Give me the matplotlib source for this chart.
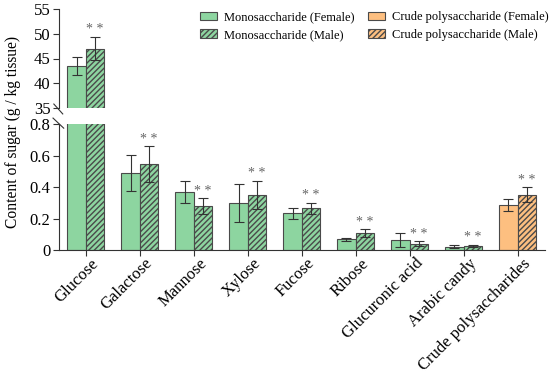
import matplotlib
matplotlib.use("Agg")
import matplotlib.pyplot as plt
import matplotlib.transforms as mtransforms
import numpy as np
from matplotlib.patches import Patch

plt.rcParams['font.family'] = ['Liberation Serif', 'DejaVu Serif']
plt.rcParams['hatch.linewidth'] = 1.0

categories = ["Glucose", "Galactose", "Mannose", "Xylose", "Fucose", "Ribose",
              "Glucuronic acid", "Arabic candy", "Crude polysaccharides"]
female = [43.5, 0.49, 0.368, 0.297, 0.233, 0.068, 0.062, 0.023, 0.288]
female_err = [1.9, 0.115, 0.07, 0.12, 0.035, 0.01, 0.045, 0.012, 0.038]
male = [47.0, 0.545, 0.28, 0.351, 0.265, 0.106, 0.042, 0.025, 0.351]
male_err = [2.4, 0.115, 0.05, 0.09, 0.035, 0.025, 0.015, 0.008, 0.047]
upper_ticks = [35, 40, 45, 50, 55]
lower_ticks = [0, 0.2, 0.4, 0.6, 0.8]
lower_ticklabels = ["0", "0.2", "0.4", "0.6", "0.8"]

green = "#8dd5a0"
orange = "#fdbf80"
edge = "#4a4a4a"
star_color = "#666666"

fig = plt.figure(figsize=(5.5, 3.75), dpi=100)
ax_top = fig.add_axes([0.107, 0.712, 0.883, 0.264])
ax_bot = fig.add_axes([0.107, 0.333, 0.883, 0.336])

x = np.arange(len(categories))
w = 0.34
colors = [green] * (len(categories) - 1) + [orange]

for ax in (ax_top, ax_bot):
    ax.bar(x - w / 2, female, w, color=colors, edgecolor=edge, linewidth=0.8)
    ax.bar(x + w / 2, male, w, color=colors, edgecolor=edge, linewidth=0.8, hatch="//////")
    ax.errorbar(x - w / 2, female, yerr=female_err, fmt="none", ecolor="#333333",
                elinewidth=0.8, capsize=3.3, capthick=0.8)
    ax.errorbar(x + w / 2, male, yerr=male_err, fmt="none", ecolor="#333333",
                elinewidth=0.8, capsize=3.3, capthick=0.8)
    ax.set_xlim(-0.5, len(categories) - 0.5)
    ax.spines['top'].set_visible(False)
    ax.spines['right'].set_visible(False)
    ax.spines['left'].set_color("#333333")
    ax.spines['bottom'].set_color("#333333")
    ax.tick_params(axis='y', labelsize=12, length=4, color="#333333", pad=2)

ax_top.set_ylim(35, 55)
ax_top.set_yticks(upper_ticks)
ax_top.spines['bottom'].set_visible(False)
ax_top.set_xticks([])

ax_bot.set_ylim(0, 0.8)
ax_bot.set_yticks(lower_ticks)
ax_bot.set_yticklabels(lower_ticklabels)
ax_bot.set_xticks(x)
ax_bot.set_xticklabels(categories, rotation=45, ha="right", rotation_mode="anchor", fontsize=12)
ax_bot.tick_params(axis='x', length=4, color="#333333", pad=2)
shift = mtransforms.ScaledTranslation(5 / 100, 3 / 100, fig.dpi_scale_trans)
for lab in ax_bot.get_xticklabels():
    lab.set_transform(lab.get_transform() + shift)

# significance stars
for i in range(len(categories)):
    top = male[i] + male_err[i]
    ax = ax_top if i == 0 else ax_bot
    ax.annotate("* *", (x[i] + w / 2, top), xytext=(0, 5), textcoords="offset points",
                ha="center", va="center", fontsize=10, color=star_color)

# break marks
kw = dict(color="#333333", lw=0.8, clip_on=False)
ax_top.plot([-0.0103, 0.008], [0.04, -0.06], transform=ax_top.transAxes, **kw)
ax_bot.plot([-0.012, 0.010], [1.048, 0.968], transform=ax_bot.transAxes, **kw)

fig.text(0.024, 0.647, "Content of sugar (g / kg tissue)", rotation=90,
         ha="center", va="center", fontsize=11.2)

handles = [Patch(facecolor=green, edgecolor=edge, linewidth=0.8),
           Patch(facecolor=green, edgecolor=edge, linewidth=0.8, hatch="//////"),
           Patch(facecolor=orange, edgecolor=edge, linewidth=0.8),
           Patch(facecolor=orange, edgecolor=edge, linewidth=0.8, hatch="//////")]
labels = ["Monosaccharide (Female)", "Monosaccharide (Male)",
          "Crude polysaccharide (Female)", "Crude polysaccharide (Male)"]
fig.legend(handles, labels, ncol=2, loc="upper left", bbox_to_anchor=(0.3636, 0.97),
           frameon=False, fontsize=9, handlelength=1.36, handleheight=0.65,
           handletextpad=0.56, columnspacing=1.1, labelspacing=0.45,
           borderpad=0, borderaxespad=0)

fig.savefig("out.png", dpi=100)
